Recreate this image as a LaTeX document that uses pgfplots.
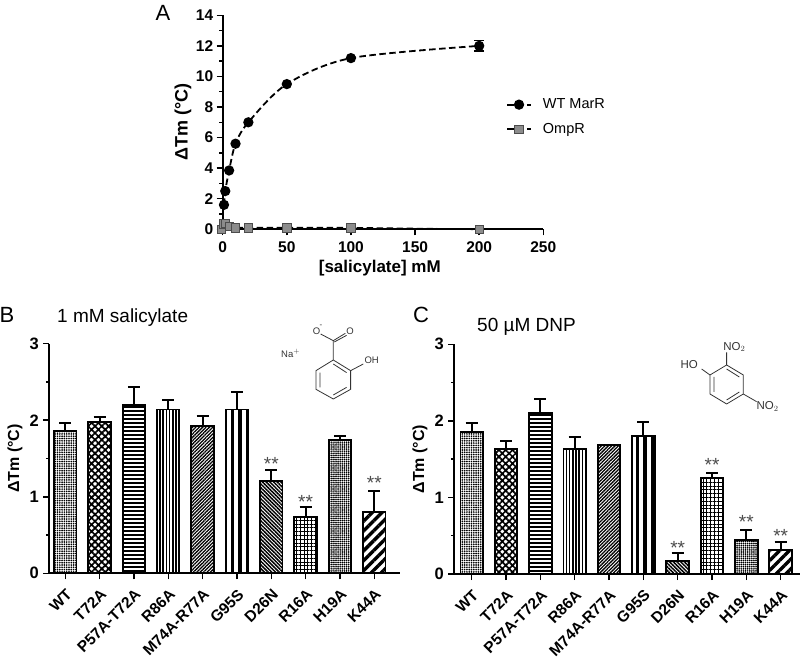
\documentclass[border=0pt]{standalone}
\usepackage{fontspec}
\setmainfont{Liberation Sans}
\usepackage{pgfplots}
\pgfplotsset{compat=1.18}
\usetikzlibrary{patterns,patterns.meta}

\newcommand{\tickfont}{\fontsize{15.5}{18}\selectfont\bfseries}
\newcommand{\barfont}{\fontsize{15.5}{18}\selectfont\bfseries}
\newcommand{\labelfont}{\fontsize{16}{18}\selectfont\bfseries}
\definecolor{sqgrey}{gray}{0.55}

% wide tile, so that no tile seam falls across the lines of a bar
\pgfdeclarepatternformonly{widehlines}{\pgfpoint{-1pt}{0pt}}{\pgfpoint{61pt}{4pt}}{\pgfpoint{60pt}{4pt}}{
  \pgfsetlinewidth{2.8pt}
  \pgfpathmoveto{\pgfpoint{-1pt}{2pt}}
  \pgfpathlineto{\pgfpoint{61pt}{2pt}}
  \pgfusepath{stroke}
}

\pgfplotsset{
  common/.style={
    scale only axis,
    clip=false,
    axis x line=bottom,
    axis y line=left,
    axis line style={-,line width=1.9pt,black},
    tick align=outside,
    major tick length=6pt,
    minor tick length=3.5pt,
    every tick/.style={line width=1.5pt,black},
    tick label style={font=\tickfont},
    /pgf/number format/assume math mode=true,
  },
  barpanel/.style={
    common,
    ymin=0, ymax=3,
    ytick={0,1,2,3},
    minor y tick num=1,
    xtick={0,1,...,9},
    xticklabels={WT,T72A,P57A-T72A,R86A,M74A-R77A,G95S,D26N,R16A,H19A,K44A},
    x tick label style={rotate=45,anchor=north east,font=\barfont,inner sep=1pt,yshift=-5pt,xshift=-5pt},
    y tick label style={xshift=-1pt,font=\fontsize{16.5}{18}\selectfont\bfseries},
    ylabel={ΔTm (°C)},
  },
  onebar/.style={
    ybar, bar width=22.5pt, bar shift=0pt,
    draw=black, line width=1.9pt,
    error bars/y dir=plus, error bars/y explicit,
    error bars/error bar style={line width=2pt,black},
    error bars/error mark options={line width=2pt,black,mark size=6pt,rotate=90},
  },
}
\tikzset{
  star/.style={font=\fontsize{19}{20}\selectfont,text=black!70},
  pWT/.style={pattern={Dots[distance=2.3pt,radius=0.95pt]}},
  pT72/.style={pattern={Hatch[angle=45,distance=4.8pt,line width=1.7pt]}},
  pP57/.style={pattern=widehlines},
  pR86/.style={pattern={Lines[angle=90,distance=3.2pt,line width=1.7pt]}},
  pM74/.style={pattern={Lines[angle=45,distance=2.4pt,line width=1.3pt]}},
  pG95/.style={pattern={Lines[angle=90,distance=7.5pt,line width=3.2pt]}},
  pD26/.style={pattern={Lines[angle=-45,distance=2.6pt,line width=1.5pt]}},
  pR16/.style={pattern={Hatch[angle=0,distance=3.8pt,line width=1pt]}},
  pH19/.style={pattern={Dots[distance=2.1pt,radius=0.95pt]}},
  pK44/.style={pattern={Lines[angle=45,distance=7pt,line width=3.4pt]}},
}

\begin{document}
\begin{tikzpicture}[x=1pt,y=1pt]
\useasboundingbox (0,0) rectangle (800,657);

% panel A
\begin{axis}[
  common,
  at={(222.7pt,427.7pt)}, anchor=south west,
  width=320.6pt, height=214pt,
  xmin=0, xmax=250, ymin=0, ymax=14,
  xtick={0,50,100,150,200,250},
  ytick={0,2,...,14},
  minor y tick num=1,
  x tick label style={yshift=-3pt},
  xlabel={[salicylate] mM},
  ylabel={ΔTm (°C)},
  every axis x label/.style={at={(axis description cs:0.49,-0.18)},anchor=center,
    font=\fontsize{17}{18}\selectfont\bfseries},
  every axis y label/.style={at={(axis description cs:-0.124,0.5)},rotate=90,anchor=center,
    font=\fontsize{18}{20}\selectfont\bfseries},
  legend style={at={(axis description cs:0.874,0.525)},anchor=west,draw=none,fill=none,
    font=\fontsize{14.5}{18}\selectfont,row sep=9pt,
    /tikz/every odd column/.append style={column sep=9pt}},
  legend cell align=left,
  legend image code/.code={
    \draw[#1,mark repeat=2,mark phase=2] plot coordinates {(0pt,0pt)(12pt,0pt)(24pt,0pt)};
  },
]
\addplot[black,line width=1.8pt,dash pattern=on 6.5pt off 3.5pt,smooth,tension=0.5,
  mark=*,mark size=4.2pt,mark options={solid},
  error bars/y dir=both,error bars/y explicit,
  error bars/error bar style={line width=1.8pt,solid},
  error bars/error mark options={line width=1.8pt,black,mark size=5pt,rotate=90}]
coordinates {
  (1,1.6) (2,2.5) (5,3.85) (10,5.6) (20,7.0) (50,9.5) (100,11.2) (200,12.0) +- (0,0.35)
};
\addplot[black,line width=1.6pt,dash pattern=on 6.5pt off 3.5pt,
  mark=square*,mark size=4.2pt,mark options={solid,fill=sqgrey,draw=black!70,line width=0.8pt}]
coordinates {
  (-1,0) (1,0.35) (2,0.4) (5,0.2) (10,0.1) (20,0.1) (50,0.1) (100,0.1) (200,0)
};
\legend{WT MarR,OmpR}
\end{axis}

% panel B
\begin{axis}[
  barpanel,
  at={(49.3pt,83.7pt)}, anchor=south west,
  width=350.7pt, height=229.6pt,
  xmin=-0.466, xmax=9.75,
  every axis y label/.style={at={(axis description cs:-0.098,0.5)},rotate=90,anchor=center,font=\labelfont},
]
\addplot[onebar,pWT] coordinates {(0,1.86) +- (0,0.10)};
\addplot[onebar,pT72] coordinates {(1,1.98) +- (0,0.06)};
\addplot[onebar,pP57] coordinates {(2,2.20) +- (0,0.23)};
\addplot[onebar,pR86] coordinates {(3,2.14) +- (0,0.13)};
\addplot[onebar,pM74] coordinates {(4,1.92) +- (0,0.14)};
\addplot[onebar,pG95] coordinates {(5,2.14) +- (0,0.23)};
\addplot[onebar,pD26] coordinates {(6,1.21) +- (0,0.145)};
\addplot[onebar,pR16] coordinates {(7,0.74) +- (0,0.125)};
\addplot[onebar,pH19] coordinates {(8,1.74) +- (0,0.05)};
\addplot[onebar,pK44] coordinates {(9,0.80) +- (0,0.27)};
\node[star] at (axis cs:6,1.43) {**};
\node[star] at (axis cs:7,0.93) {**};
\node[star] at (axis cs:9,1.18) {**};
\end{axis}

% panel C
\begin{axis}[
  barpanel,
  at={(454.3pt,83pt)}, anchor=south west,
  width=345.7pt, height=229.7pt,
  xmin=-0.507, xmax=9.563,
  every axis y label/.style={at={(axis description cs:-0.099,0.5)},rotate=90,anchor=center,font=\labelfont},
]
\addplot[onebar,pWT] coordinates {(0,1.85) +- (0,0.127)};
\addplot[onebar,pT72] coordinates {(1,1.63) +- (0,0.103)};
\addplot[onebar,pP57] coordinates {(2,2.10) +- (0,0.19)};
\addplot[onebar,pR86] coordinates {(3,1.63) +- (0,0.16)};
\addplot[onebar,pM74] coordinates {(4,1.69) +- (0,0)};
\addplot[onebar,pG95] coordinates {(5,1.80) +- (0,0.18)};
\addplot[onebar,pD26] coordinates {(6,0.174) +- (0,0.105)};
\addplot[onebar,pR16] coordinates {(7,1.25) +- (0,0.074)};
\addplot[onebar,pH19] coordinates {(8,0.44) +- (0,0.135)};
\addplot[onebar,pK44] coordinates {(9,0.313) +- (0,0.105)};
\node[star] at (axis cs:6,0.34) {**};
\node[star] at (axis cs:7,1.42) {**};
\node[star] at (axis cs:8,0.68) {**};
\node[star] at (axis cs:9,0.50) {**};
\end{axis}

% panel letters and titles
\node[font=\fontsize{22}{24}\selectfont] at (163,644) {A};
\node[font=\fontsize{22}{24}\selectfont] at (7,342) {B};
\node[font=\fontsize{22}{24}\selectfont] at (421,342) {C};
\node[font=\fontsize{19}{20}\selectfont,anchor=west,inner sep=0pt] at (57,339) {1 mM salicylate};
\node[font=\fontsize{19}{20}\selectfont,anchor=west,inner sep=0pt] at (477,330) {50 µM DNP};

% salicylate sketch, in zoomed pixels of the reference
\begin{scope}[shift={(0pt,357pt)},x=0.3333pt,y=-0.3333pt,line width=0.8pt,black!80]
\draw (1000,180)--(1052,212)--(1052,268)--(1000,297)--(948,268)--(948,212)--cycle;
\draw (1000,192)--(1040,218) (1040,262)--(1000,285) (960,262)--(960,218);
\draw (1000,180)--(1000,122)--(962,102) (1000,122)--(1036,100) (1003,126)--(1040,106);
\draw (1052,212)--(1090,192);
\node[font=\fontsize{9.5}{10}\selectfont,inner sep=0pt] at (950,93) {O};
\node[font=\fontsize{8}{8}\selectfont,inner sep=0pt] at (963,79) {-};
\node[font=\fontsize{9.5}{10}\selectfont,inner sep=0pt] at (1050,93) {O};
\node[font=\fontsize{9.5}{10}\selectfont,inner sep=0pt] at (1115,182) {OH};
\node[font=\fontsize{9.5}{10}\selectfont,inner sep=0pt] at (872,160) {Na$^{+}$};
\end{scope}

% DNP sketch
\begin{scope}[shift={(400pt,357pt)},x=0.3333pt,y=-0.3333pt,line width=0.8pt,black!80]
\draw (980,195)--(1030,225)--(1030,282)--(980,312)--(930,282)--(930,225)--cycle;
\draw (980,207)--(1018,231) (1018,276)--(980,300) (942,276)--(942,231);
\draw (930,225)--(905,207) (980,195)--(980,157) (1030,282)--(1070,305);
\node[font=\fontsize{11.5}{12}\selectfont,inner sep=0pt] at (868,195) {HO};
\node[font=\fontsize{11.5}{12}\selectfont,inner sep=0pt] at (1003,141) {NO$_2$};
\node[font=\fontsize{11.5}{12}\selectfont,inner sep=0pt] at (1103,320) {NO$_2$};
\end{scope}
\end{tikzpicture}
\end{document}
